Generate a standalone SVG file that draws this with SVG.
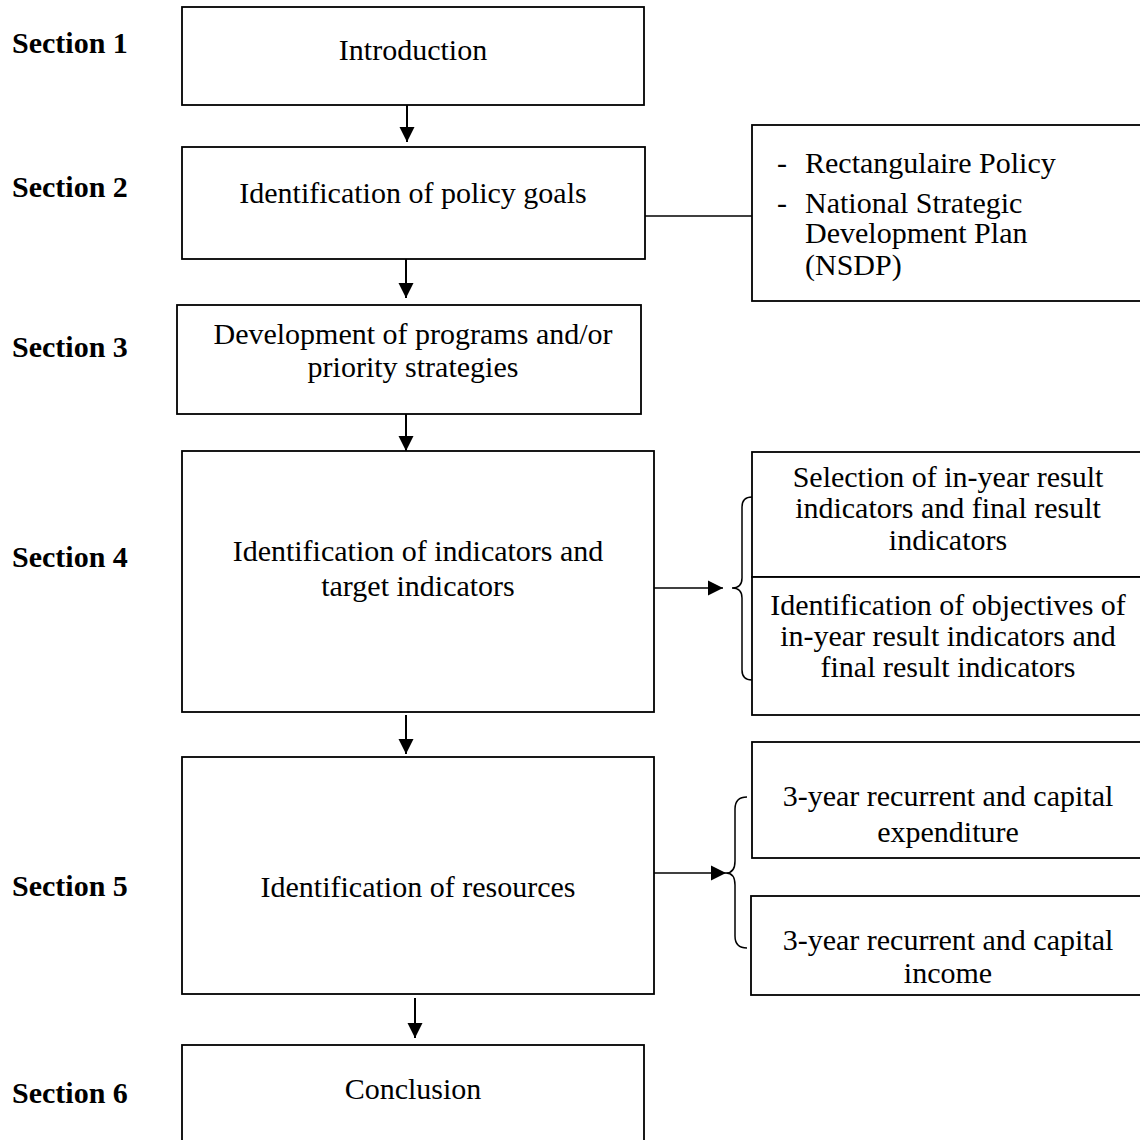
<svg xmlns="http://www.w3.org/2000/svg" width="1140" height="1140" viewBox="0 0 1140 1140">
<style>
.box{fill:#fff;stroke:#000;stroke-width:1.8}
.t{font-family:"Liberation Serif","Times New Roman",serif;font-size:30px;fill:#000}
.c{text-anchor:middle}
.sec{font-family:"Liberation Serif","Times New Roman",serif;font-size:30px;font-weight:bold;fill:#000}
.ln{fill:none;stroke:#000;stroke-width:2}
.thin{fill:none;stroke:#000;stroke-width:1.5}
</style>
<defs>
<marker id="ah" markerUnits="userSpaceOnUse" markerWidth="16" markerHeight="16" viewBox="0 0 16 16" refX="15" refY="8" orient="auto">
<path d="M0,0.5 L15,8 L0,15.5 Z" fill="#000"/>
</marker>
</defs>
<rect width="1140" height="1140" fill="#fff"/>

<g id="labels">
<text class="sec" x="12" y="53">Section 1</text>
<text class="sec" x="12" y="197">Section 2</text>
<text class="sec" x="12" y="357">Section 3</text>
<text class="sec" x="12" y="567">Section 4</text>
<text class="sec" x="12" y="896">Section 5</text>
<text class="sec" x="12" y="1103">Section 6</text>
</g>

<g id="connectors">
<line class="ln" x1="407" y1="105" x2="407" y2="142" marker-end="url(#ah)"/>
<line class="ln" x1="406" y1="259" x2="406" y2="298" marker-end="url(#ah)"/>
<line class="ln" x1="406" y1="414" x2="406" y2="451" marker-end="url(#ah)"/>
<line class="ln" x1="406" y1="715" x2="406" y2="754" marker-end="url(#ah)"/>
<line class="ln" x1="415" y1="998" x2="415" y2="1038" marker-end="url(#ah)"/>
<line class="thin" x1="645" y1="216" x2="752" y2="216"/>
<line class="thin" x1="654" y1="588" x2="723" y2="588" marker-end="url(#ah)"/>
<line class="thin" x1="654" y1="873" x2="726" y2="873" marker-end="url(#ah)"/>
<path class="thin" d="M752,497 Q742,497 742,507 L742,578 Q742,588 732,588 Q742,588 742,598 L742,670 Q742,680 752,680"/>
<path class="thin" d="M747,797 Q735,797 735,809 L735,861 Q735,873 726,873 Q735,873 735,885 L735,936 Q735,948 747,948"/>
</g>

<g id="n1">
<rect class="box" x="182" y="7" width="462" height="98"/>
<text class="t c" x="413" y="60">Introduction</text>
</g>
<g id="n2">
<rect class="box" x="182" y="147" width="463" height="112"/>
<text class="t c" x="413" y="203">Identification of policy goals</text>
</g>
<g id="n3">
<rect class="box" x="177" y="305" width="464" height="109"/>
<text class="t c" x="413" y="344">Development of programs and/or</text>
<text class="t c" x="413" y="377">priority strategies</text>
</g>
<g id="n4">
<rect class="box" x="182" y="451" width="472" height="261"/>
<text class="t c" x="418" y="561">Identification of indicators and</text>
<text class="t c" x="418" y="596">target indicators</text>
</g>
<g id="n5">
<rect class="box" x="182" y="757" width="472" height="237"/>
<text class="t c" x="418" y="897">Identification of resources</text>
</g>
<g id="n6">
<rect class="box" x="182" y="1045" width="462" height="110"/>
<text class="t c" x="413" y="1099">Conclusion</text>
</g>

<g id="r2">
<rect class="box" x="752" y="125" width="400" height="176"/>
<text class="t" x="777" y="173">-</text>
<text class="t" x="805" y="173">Rectangulaire Policy</text>
<text class="t" x="777" y="213">-</text>
<text class="t" x="805" y="213">National Strategic</text>
<text class="t" x="805" y="243">Development Plan</text>
<text class="t" x="805" y="275">(NSDP)</text>
</g>
<g id="r4a">
<rect class="box" x="752" y="452" width="400" height="125"/>
<text class="t c" x="948" y="487">Selection of in-year result</text>
<text class="t c" x="948" y="518">indicators and final result</text>
<text class="t c" x="948" y="550">indicators</text>
</g>
<g id="r4b">
<rect class="box" x="752" y="577" width="400" height="138"/>
<text class="t c" x="948" y="615">Identification of objectives of</text>
<text class="t c" x="948" y="646">in-year result indicators and</text>
<text class="t c" x="948" y="677">final result indicators</text>
</g>
<g id="r5a">
<rect class="box" x="752" y="742" width="400" height="116"/>
<text class="t c" x="948" y="806">3-year recurrent and capital</text>
<text class="t c" x="948" y="842">expenditure</text>
</g>
<g id="r5b">
<rect class="box" x="751" y="896" width="400" height="99"/>
<text class="t c" x="948" y="950">3-year recurrent and capital</text>
<text class="t c" x="948" y="983">income</text>
</g>
</svg>
